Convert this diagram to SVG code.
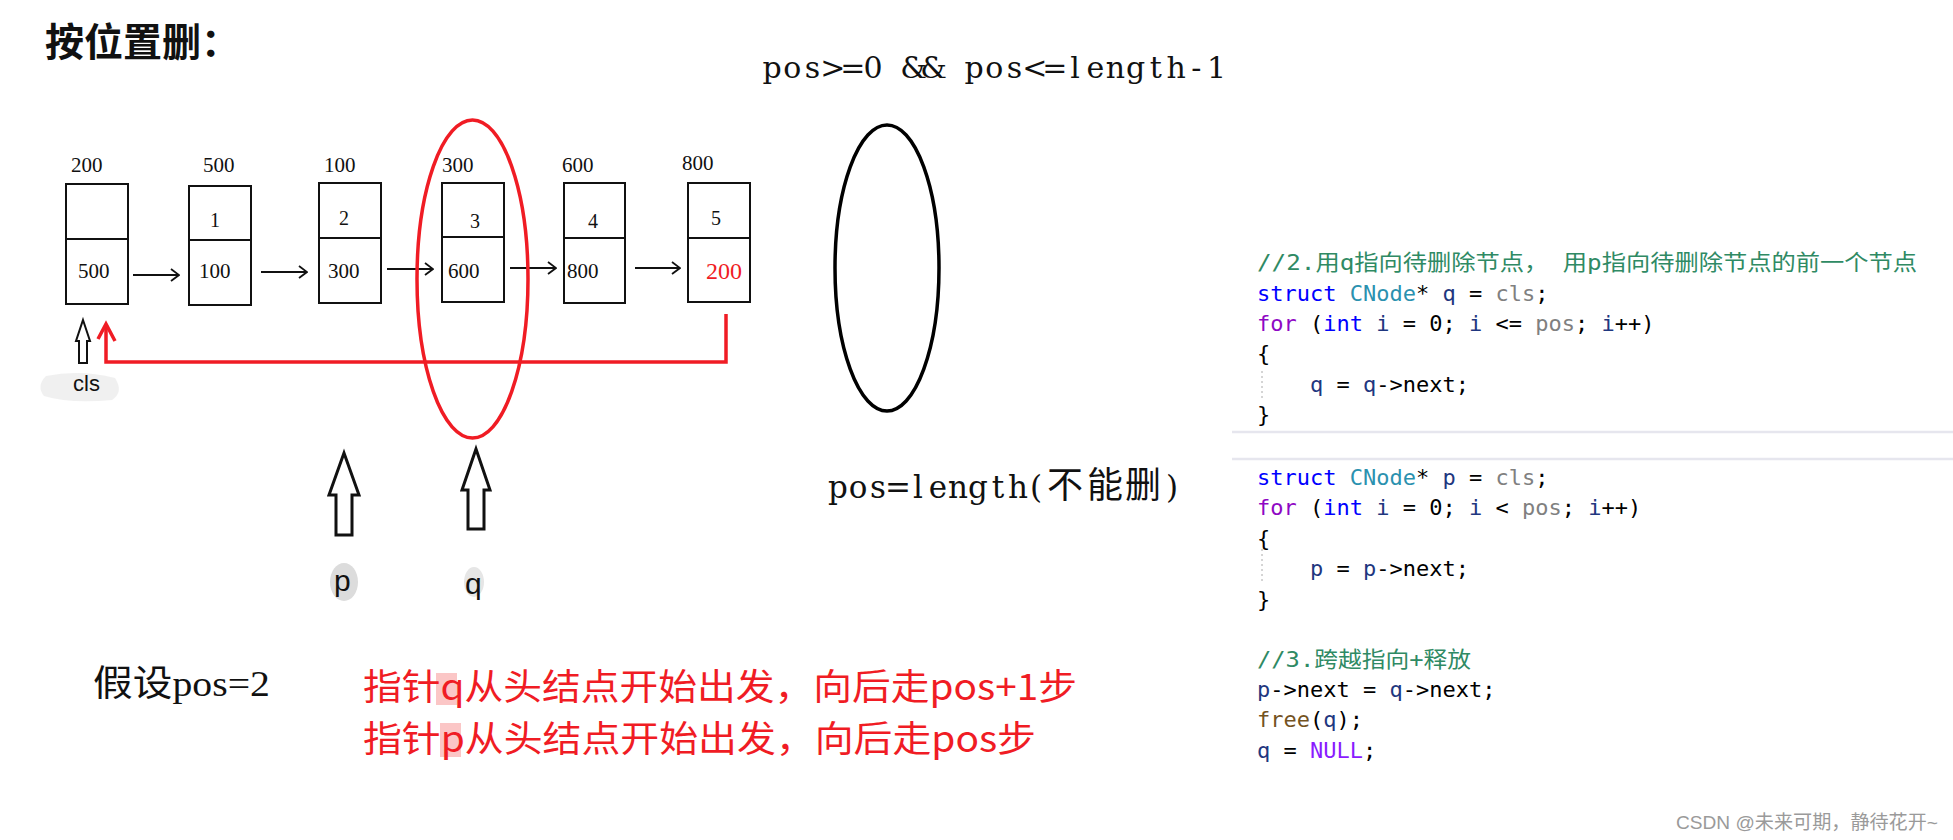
<svg xmlns="http://www.w3.org/2000/svg" width="1953" height="840" viewBox="0 0 1953 840">
<style>
.box{fill:#fff;stroke:#111;stroke-width:2}
.div{stroke:#111;stroke-width:2}
.num{font-family:"Liberation Serif","Noto Sans CJK SC",serif;font-size:21px;fill:#111}
.dat{font-family:"Liberation Serif","Noto Sans CJK SC",serif;font-size:20px;fill:#111}
.lnk{stroke:#111;stroke-width:1.8;fill:none}
.blk{fill:#fff;stroke:#111;stroke-width:3;stroke-linejoin:miter}
.code{font-family:"DejaVu Sans Mono","Liberation Mono","Noto Sans CJK SC",monospace;font-size:22px;fill:#000;white-space:pre}
.cm{fill:#2f8a64;font-family:"DejaVu Sans Mono","Noto Sans CJK SC",monospace}
.kw{fill:#0000ff}.ty{fill:#2b91af}.lv{fill:#1f377f}.pa{fill:#808080}.ct{fill:#8f08c4}.fn{fill:#74531f}.mc{fill:#8a1bff}
.red{font-family:"Noto Sans CJK SC",sans-serif;font-size:36px;fill:#f01c24}
.ser{font-family:"DejaVu Serif","Noto Sans CJK SC",serif;fill:#111;text-anchor:middle}
</style>
<defs>
<marker id="ah" viewBox="0 0 10 14" refX="9" refY="7" markerWidth="10" markerHeight="14" markerUnits="userSpaceOnUse" orient="auto">
<path d="M1,1 L9,7 L1,13" fill="none" stroke="#111" stroke-width="1.8"/>
</marker>
</defs>
<rect width="1953" height="840" fill="#fff"/>

<text id="title" x="45" y="56" font-family="Noto Sans CJK SC,sans-serif" font-weight="700" font-size="39" fill="#111">按位置删：</text>

<text id="cond" class="ser" font-size="30" y="78" x="772.1 792.3 812.5 832.7 852.9 873.1 893.3 913.5 933.7 953.9 974.1 994.3 1014.5 1034.7 1054.9 1075.1 1095.3 1115.5 1135.7 1155.9 1176.1 1196.3 1216.5">pos&gt;=0 &amp;&amp; pos&lt;=length-1</text>
<text id="cannot" class="ser" font-size="31" y="498" x="838 858 878 898 918 938 958 978 998 1018 1036 1065 1105 1143 1172">pos=length(<tspan font-size="36">不能删</tspan>)</text>

<g id="node0">
<rect class="box" x="66" y="184" width="62" height="120"/><line class="div" x1="66" y1="239" x2="128" y2="239"/>
<text class="num" x="71" y="172">200</text><text class="num" x="78" y="278">500</text>
</g>
<g id="node1">
<rect class="box" x="189" y="186" width="62" height="119"/><line class="div" x1="189" y1="240" x2="251" y2="240"/>
<text class="num" x="203" y="172">500</text><text class="dat" x="210" y="227">1</text><text class="num" x="199" y="278">100</text>
</g>
<g id="node2">
<rect class="box" x="319" y="183" width="62" height="120"/><line class="div" x1="319" y1="238" x2="381" y2="238"/>
<text class="num" x="324" y="172">100</text><text class="dat" x="339" y="225">2</text><text class="num" x="328" y="278">300</text>
</g>
<g id="node3">
<rect class="box" x="442" y="183" width="62" height="119"/><line class="div" x1="442" y1="237" x2="504" y2="237"/>
<text class="num" x="442" y="172">300</text><text class="dat" x="470" y="228">3</text><text class="num" x="448" y="278">600</text>
</g>
<g id="node4">
<rect class="box" x="564" y="183" width="61" height="120"/><line class="div" x1="564" y1="238" x2="625" y2="238"/>
<text class="num" x="562" y="172">600</text><text class="dat" x="588" y="228">4</text><text class="num" x="567" y="278">800</text>
</g>
<g id="node5">
<rect class="box" x="688" y="183" width="62" height="119"/><line class="div" x1="688" y1="238" x2="750" y2="238"/>
<text class="num" x="682" y="170">800</text><text class="dat" x="711" y="225">5</text><text x="706" y="279" font-family="Liberation Serif,serif" font-size="24" fill="#f01c24">200</text>
</g>

<g id="connectors">
<line class="lnk" x1="133" y1="275" x2="179" y2="275" marker-end="url(#ah)"/>
<line class="lnk" x1="261" y1="272" x2="307" y2="272" marker-end="url(#ah)"/>
<line class="lnk" x1="387" y1="269" x2="433" y2="269" marker-end="url(#ah)"/>
<line class="lnk" x1="510" y1="268" x2="556" y2="268" marker-end="url(#ah)"/>
<line class="lnk" x1="635" y1="268" x2="680" y2="268" marker-end="url(#ah)"/>
<path d="M726,314 V362 H106 V325" fill="none" stroke="#f01c24" stroke-width="3.5"/>
<path d="M98,339 L106,324 L115,341" fill="none" stroke="#f01c24" stroke-width="3.5"/>
</g>

<ellipse id="redEllipse" cx="472.5" cy="279" rx="55.5" ry="159" fill="none" stroke="#f01c24" stroke-width="3.5"/>
<ellipse id="blackEllipse" cx="887" cy="268" rx="52" ry="143" fill="none" stroke="#000" stroke-width="3.5"/>

<g id="clsPtr">
<path d="M46,376 Q80,369 115,378 Q124,392 112,400 Q70,404 44,396 Q36,386 46,376 Z" fill="#ececec" opacity="0.8"/>
<path class="blk" style="stroke-width:2" d="M83,320 L90,341 L87,341 L87,363 L79,363 L79,341 L76,341 Z"/>
<text x="73" y="391" font-family="Liberation Sans,sans-serif" font-size="22" fill="#111">cls</text>
</g>
<g id="pPtr">
<path class="blk" d="M344,453 L359,495 L352,495 L352,535 L336,535 L336,495 L329,495 Z"/>
<ellipse cx="344" cy="582" rx="14" ry="19" fill="#dcdcdc"/>
<text x="334" y="591" font-family="Liberation Sans,sans-serif" font-size="30" fill="#111">p</text>
</g>
<g id="qPtr">
<path class="blk" d="M476,449 L490,490 L484,490 L484,529 L468,529 L468,490 L462,490 Z"/>
<ellipse cx="474" cy="582" rx="10" ry="15" fill="#e6e6e6"/>
<text x="465" y="594" font-family="Liberation Sans,sans-serif" font-size="30" fill="#111">q</text>
</g>

<text id="assume" x="93" y="696" font-family="Liberation Serif,Noto Sans CJK SC,serif" font-size="36" fill="#111" textLength="177" lengthAdjust="spacingAndGlyphs">假设pos=2</text>

<g id="redNotes">
<rect x="436" y="673" width="21" height="32" fill="#fbc6c6"/>
<rect x="440" y="723" width="21" height="34" fill="#fbc6c6"/>
<text class="red" x="363" y="700" textLength="714" lengthAdjust="spacingAndGlyphs">指针q从头结点开始出发，向后走pos+1步</text>
<text class="red" x="363" y="752" textLength="673" lengthAdjust="spacingAndGlyphs">指针p从头结点开始出发，向后走pos步</text>
</g>

<g id="code">
<line x1="1232" y1="432" x2="1953" y2="432" stroke="#e6e6ee" stroke-width="2.5"/>
<line x1="1232" y1="459" x2="1953" y2="459" stroke="#e6e6ee" stroke-width="2.5"/>
<line x1="1262" y1="371" x2="1262" y2="400" stroke="#aaa" stroke-width="1" stroke-dasharray="2,3"/>
<line x1="1262" y1="549" x2="1262" y2="582" stroke="#aaa" stroke-width="1" stroke-dasharray="2,3"/>
<text class="code cm" x="1257" y="270" textLength="660" lengthAdjust="spacingAndGlyphs">//2.用q指向待删除节点， 用p指向待删除节点的前一个节点</text>
<text class="code" x="1257" y="301"><tspan class="kw">struct</tspan> <tspan class="ty">CNode</tspan>* <tspan class="lv">q</tspan> = <tspan class="pa">cls</tspan>;</text>
<text class="code" x="1257" y="331"><tspan class="ct">for</tspan> (<tspan class="kw">int</tspan> <tspan class="lv">i</tspan> = 0; <tspan class="lv">i</tspan> &lt;= <tspan class="pa">pos</tspan>; <tspan class="lv">i</tspan>++)</text>
<text class="code" x="1257" y="361">{</text>
<text class="code" x="1310" y="392"><tspan class="lv">q</tspan> = <tspan class="lv">q</tspan>-&gt;next;</text>
<text class="code" x="1257" y="422">}</text>
<text class="code" x="1257" y="485"><tspan class="kw">struct</tspan> <tspan class="ty">CNode</tspan>* <tspan class="lv">p</tspan> = <tspan class="pa">cls</tspan>;</text>
<text class="code" x="1257" y="515"><tspan class="ct">for</tspan> (<tspan class="kw">int</tspan> <tspan class="lv">i</tspan> = 0; <tspan class="lv">i</tspan> &lt; <tspan class="pa">pos</tspan>; <tspan class="lv">i</tspan>++)</text>
<text class="code" x="1257" y="546">{</text>
<text class="code" x="1310" y="576"><tspan class="lv">p</tspan> = <tspan class="lv">p</tspan>-&gt;next;</text>
<text class="code" x="1257" y="607">}</text>
<text class="code cm" x="1257" y="667" textLength="214" lengthAdjust="spacingAndGlyphs">//3.跨越指向+释放</text>
<text class="code" x="1257" y="697"><tspan class="lv">p</tspan>-&gt;next = <tspan class="lv">q</tspan>-&gt;next;</text>
<text class="code" x="1257" y="727"><tspan class="fn">free</tspan>(<tspan class="lv">q</tspan>);</text>
<text class="code" x="1257" y="758"><tspan class="lv">q</tspan> = <tspan class="mc">NULL</tspan>;</text>
</g>

<text id="watermark" x="1676" y="829" font-family="Liberation Sans,Noto Sans CJK SC,sans-serif" font-size="19" fill="#9a9a9a" textLength="262" lengthAdjust="spacingAndGlyphs">CSDN @未来可期，静待花开~</text>
</svg>
